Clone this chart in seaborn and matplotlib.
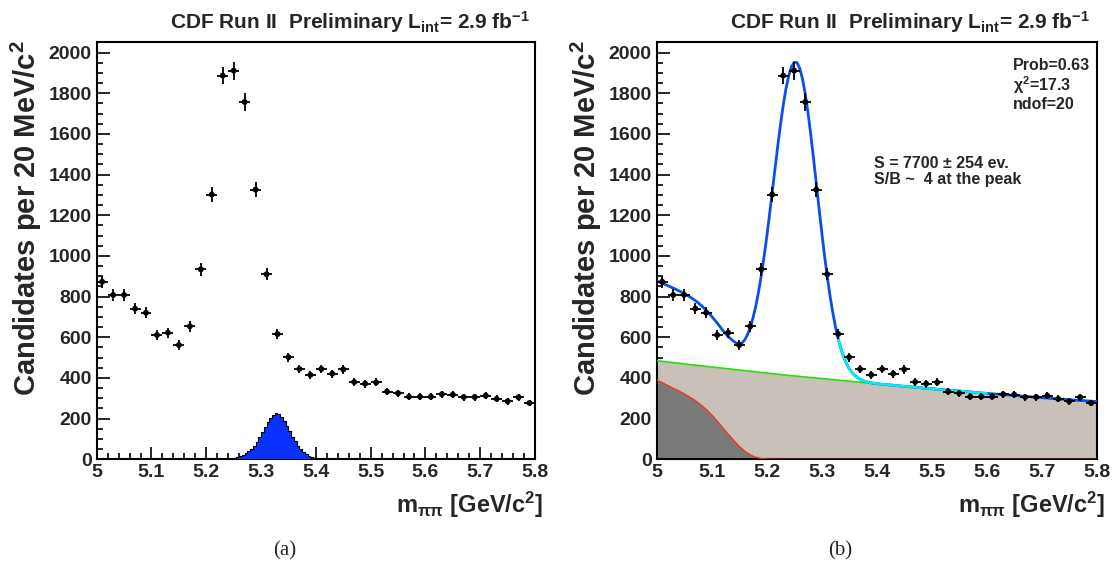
import numpy as np
import pandas as pd
import matplotlib
matplotlib.use("Agg")
import matplotlib.pyplot as plt
from matplotlib.ticker import MultipleLocator, FuncFormatter
import seaborn as sns

# ---------------- data ----------------
bin_lo, bin_hi, bin_width = 5.00, 5.80, 0.02
counts = [873, 808, 808, 741, 721, 611, 623, 562, 654, 934,
          1302, 1887, 1911, 1757, 1326, 910, 616, 502, 444, 415,
          444, 421, 442, 380, 372, 378, 333, 325, 308, 308,
          308, 320, 318, 306, 306, 313, 297, 285, 305, 277]

# blue simulated-signal histogram (left panel), 5 MeV bins starting at 5.24
sig_start, sig_width = 5.24, 0.005
sig_hist = [2, 4, 7, 10, 15, 22, 30, 40, 53, 67, 85, 108, 132, 160, 184, 205, 220,
            226, 222, 208, 188, 164, 138, 112, 88, 67, 50, 36, 25, 16, 10, 6, 3, 1]

# total fit (right panel)
fit_x = [5.00, 5.01, 5.02, 5.03, 5.04, 5.05, 5.06, 5.07, 5.08, 5.09, 5.10, 5.11, 5.12,
         5.13, 5.14, 5.145, 5.15, 5.155, 5.16, 5.165, 5.17, 5.175, 5.18, 5.185, 5.19,
         5.195, 5.20, 5.205, 5.21, 5.215, 5.22, 5.225, 5.23, 5.235, 5.24, 5.245, 5.25,
         5.255, 5.26, 5.265, 5.27, 5.275, 5.28, 5.285, 5.29, 5.295, 5.30, 5.305, 5.31,
         5.315, 5.32, 5.325, 5.33, 5.335, 5.34, 5.345, 5.35, 5.355, 5.36, 5.37, 5.38,
         5.39, 5.40, 5.41, 5.45, 5.50, 5.55, 5.60, 5.65, 5.70, 5.75, 5.80]
fit_y = [877, 866, 854, 842, 829, 815, 799, 781, 759, 733, 703, 670, 635,
         603, 580, 571, 567, 572, 587, 612, 647, 695, 751, 821, 901,
         992, 1092, 1200, 1312, 1426, 1539, 1644, 1740, 1822, 1886, 1930, 1952,
         1951, 1923, 1872, 1798, 1706, 1599, 1483, 1361, 1238, 1118, 1005, 901,
         806, 724, 652, 593, 543, 503, 471, 446, 427, 412, 393, 382,
         376, 372, 369, 359, 347, 336, 324, 314, 303, 293, 284]
cyan_lo, cyan_hi = 5.33, 5.60

# combinatorial background (tan, green line)
bkg_x = [5.00, 5.05, 5.10, 5.15, 5.20, 5.25, 5.30, 5.35, 5.40, 5.45, 5.50,
         5.55, 5.60, 5.65, 5.70, 5.75, 5.80]
bkg_y = [485, 469, 454, 439, 424, 410, 397, 384, 371, 359, 347,
         336, 324, 314, 303, 293, 284]

# partially reconstructed background (dark grey, red line)
part_x = [5.00, 5.01, 5.02, 5.03, 5.04, 5.05, 5.06, 5.07, 5.08, 5.09, 5.10, 5.11,
          5.12, 5.13, 5.14, 5.15, 5.16, 5.17, 5.18, 5.19, 5.20, 5.21, 5.22, 5.80]
part_y = [390, 377, 363, 349, 336, 322, 306, 289, 268, 245, 218, 188,
          155, 123, 93, 64, 40, 22, 10, 4, 1, 0, 0, 0]

title = r"CDF Run II  Preliminary L$_{\mathbf{int}}$= 2.9 fb$^{\mathbf{-1}}$"
ylabel = r"Candidates per 20 MeV/c$^{\mathbf{2}}$"
xlabel = r"m$_{\mathrm{\pi\pi}}$ [GeV/c$^{\mathbf{2}}$]"
fit_info = ["Prob=0.63", r"$\mathrm{\chi}^{\mathbf{2}}$=17.3", "ndof=20"]
sig_info = ["S = 7700 \u00b1 254 ev.", "S/B ~  4 at the peak"]

# ---------------- style ----------------
sns.set_style("ticks")
plt.rcParams["font.family"] = ["Liberation Sans", "DejaVu Sans"]
plt.rcParams["font.weight"] = "bold"
plt.rcParams["mathtext.fontset"] = "custom"
plt.rcParams["mathtext.rm"] = "Liberation Sans"
plt.rcParams["mathtext.it"] = "Liberation Sans:italic"
plt.rcParams["mathtext.bf"] = "Liberation Sans:bold"

centers = np.round(np.arange(bin_lo + bin_width / 2, bin_hi, bin_width), 3)
counts_a = np.array(counts, dtype=float)
errs = np.sqrt(counts_a)
sig_end = sig_start + sig_width * len(sig_hist)
sig_df = pd.DataFrame({"m": sig_start + sig_width * (np.arange(len(sig_hist)) + 0.5),
                       "w": np.array(sig_hist, dtype=float)})
pts_df = pd.DataFrame({"m": centers, "n": counts_a})

W, H = 1119, 574
fig = plt.figure(figsize=(W / 100, H / 100), dpi=100)
axL = fig.add_axes([96.7 / W, 1 - 459.3 / H, 438.3 / W, 417.3 / H])
axR = fig.add_axes([656.7 / W, 1 - 459.3 / H, 440.0 / W, 417.3 / H])


def draw_points(ax):
    ax.errorbar(centers, counts_a, xerr=bin_width / 2, yerr=errs, fmt="none",
                ecolor="black", elinewidth=1.3, capsize=0, zorder=6)
    sns.scatterplot(data=pts_df, x="m", y="n", color="black", s=18,
                    edgecolor="none", ax=ax, zorder=7, legend=False)


def style(ax):
    ax.set_xlim(5.0, 5.8)
    ax.set_ylim(0, 2052)
    ax.xaxis.set_major_locator(MultipleLocator(0.1))
    ax.xaxis.set_minor_locator(MultipleLocator(0.02))
    ax.yaxis.set_major_locator(MultipleLocator(200))
    ax.yaxis.set_minor_locator(MultipleLocator(50))
    ax.xaxis.set_major_formatter(FuncFormatter(
        lambda v, p: "5" if abs(v - 5) < 1e-6 else f"{v:.1f}"))
    ax.yaxis.set_major_formatter(FuncFormatter(lambda v, p: f"{v:.0f}"))
    ax.tick_params(which="both", direction="in", top=False, right=False,
                   labelsize=14, width=1.2, color="black")
    ax.tick_params(which="major", length=9)
    ax.tick_params(which="minor", length=4.5)
    ax.tick_params(axis="x", pad=3.5)
    ax.tick_params(axis="y", pad=3.5)
    for sp in ax.spines.values():
        sp.set_visible(True)
        sp.set_linewidth(1.5)
        sp.set_color("black")
    ax.set_xlabel("")
    ax.set_ylabel("")
    ax.grid(False)


# ---------------- left panel ----------------
sns.histplot(data=sig_df, x="m", weights="w", binwidth=sig_width,
             binrange=(sig_start, sig_end), element="step",
             fill=True, color="#0a32ff", alpha=1.0, edgecolor="black",
             linewidth=0.8, ax=axL, zorder=3)
draw_points(axL)
style(axL)

# ---------------- right panel ----------------
axR.fill_between(bkg_x, 0, bkg_y, color="#c9c1b9", lw=0, zorder=1)
axR.fill_between(part_x, 0, part_y, color="#7a7a7a", lw=0, zorder=2)
sns.lineplot(x=part_x, y=part_y, color="#f0341c", lw=1.0, ax=axR, zorder=3,
             estimator=None, sort=False)
sns.lineplot(x=bkg_x, y=bkg_y, color="#22e000", lw=1.2, ax=axR, zorder=3,
             estimator=None, sort=False)
sns.lineplot(x=fit_x, y=fit_y, color="#0a50e6", lw=2.0, ax=axR, zorder=4,
             estimator=None, sort=False)
fx = np.array(fit_x)
fy = np.array(fit_y)
sel = (fx >= cyan_lo - 1e-9) & (fx <= cyan_hi + 1e-9)
sns.lineplot(x=fx[sel], y=fy[sel], color="#00f0f0", lw=1.8, ax=axR, zorder=5,
             estimator=None, sort=False)
draw_points(axR)
style(axR)

# texts in pixel coordinates (origin top-left)
for i, t in enumerate(fit_info):
    fig.text(1013 / W, 1 - (66 + 19 * i) / H, t, fontsize=11.5, va="center",
             ha="left", fontweight="bold")
for i, t in enumerate(sig_info):
    fig.text(874 / W, 1 - (163.3 + 16 * i) / H, t, fontsize=11.5, va="center",
             ha="left", fontweight="bold")

# ---------------- labels ----------------
for ax_left_px, ax_right_px, ylab_x in ((96.7, 535, 26.5), (656.7, 1096.7, 586.5)):
    fig.text((ax_left_px + 73) / W, 1 - 22 / H, title, fontsize=15,
             ha="left", va="center", fontweight="bold")
    fig.text((ax_right_px + 8) / W, 1 - 505 / H, xlabel, fontsize=17,
             ha="right", va="center", fontweight="bold")
    fig.text(ylab_x / W, 1 - 40 / H, ylabel, fontsize=21, rotation=90,
             ha="center", va="top", fontweight="bold")

fig.text(285 / W, 1 - 551 / H, "(a)", fontsize=15, ha="center", va="center",
         fontweight="normal", family=["Liberation Serif", "DejaVu Serif"])
fig.text(840 / W, 1 - 551 / H, "(b)", fontsize=15, ha="center", va="center",
         fontweight="normal", family=["Liberation Serif", "DejaVu Serif"])

fig.savefig("out.png", dpi=100)
